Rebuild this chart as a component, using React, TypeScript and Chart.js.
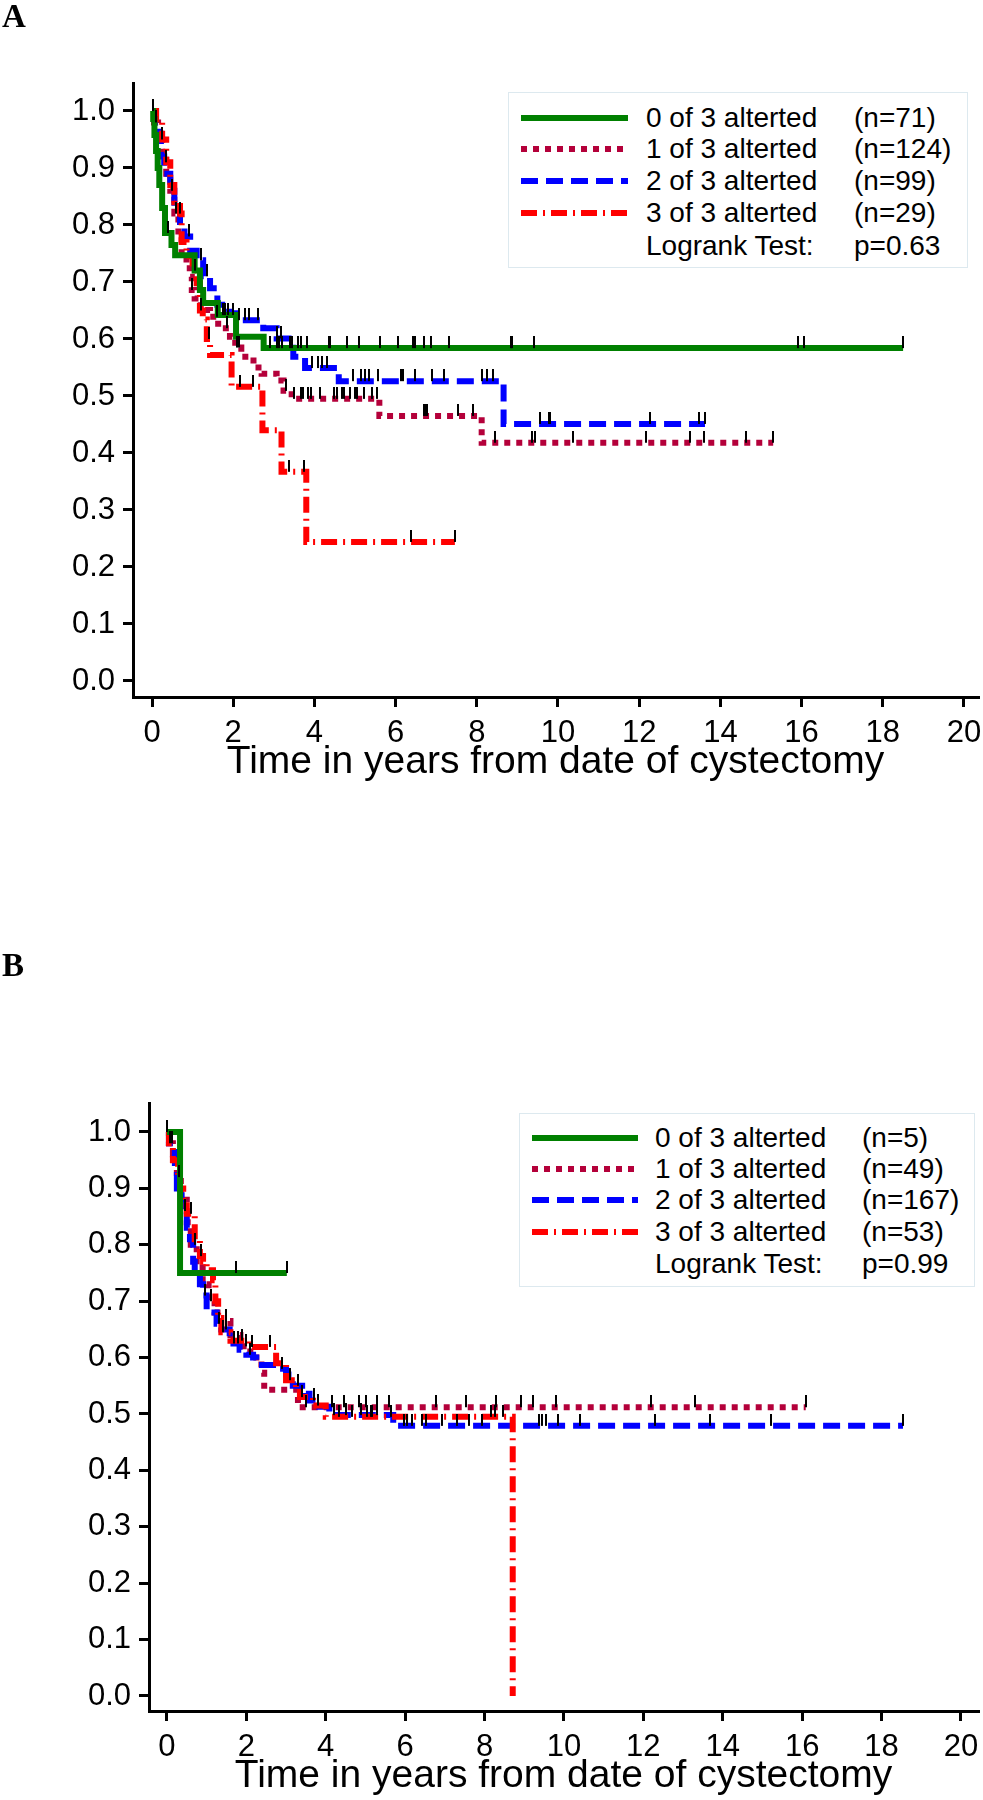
import React, { useEffect, useRef } from "react";
import { Chart, registerables } from "chart.js";

Chart.register(...registerables);

const FONT = "'Liberation Sans', Arial, Helvetica, sans-serif";

// ---------- shared labels / ticks ----------
const X_TICKS = [0, 2, 4, 6, 8, 10, 12, 14, 16, 18, 20];
const Y_TICKS = [0, 0.1, 0.2, 0.3, 0.4, 0.5, 0.6, 0.7, 0.8, 0.9, 1.0];
const X_TITLE = "Time in years from date of cystectomy";
const GROUPS = ["0 of 3 alterted", "1 of 3 alterted", "2 of 3 alterted", "3 of 3 alterted"];
const TEST_LABEL = "Logrank Test:";

// ---------- Panel A ----------
const A_N = ["(n=71)", "(n=124)", "(n=99)", "(n=29)"];
const A_P = "p=0.63";

const A_G0_T = [0, 0.03, 0.06, 0.1, 0.14, 0.18, 0.25, 0.32, 0.48, 0.57, 1.05, 1.18, 1.26, 1.62, 2.07, 2.75];
const A_G0_S = [1.0, 0.986, 0.958, 0.93, 0.9, 0.87, 0.83, 0.786, 0.765, 0.747, 0.72, 0.686, 0.663, 0.642, 0.604, 0.584];
const A_G0_END = 18.5;
const A_G0_CENS = [0.02, 0.4, 1.75, 1.8, 1.88, 2.0, 2.9, 3.07, 3.14, 3.19, 3.4, 3.46, 3.6, 3.66, 3.81, 4.35, 4.38, 4.8, 5.1, 5.62, 6.05, 6.43, 6.47, 6.7, 6.87, 7.32, 8.85, 8.87, 9.41, 15.91, 16.06, 18.5];

const A_G1_T = [0, 0.05, 0.15, 0.25, 0.35, 0.45, 0.55, 0.65, 0.73, 0.85, 0.93, 0.98, 1.05, 1.2, 1.43, 1.63, 1.92, 2.05, 2.2, 2.5, 2.7, 3.07, 3.24, 3.44, 5.6, 8.12];
const A_G1_S = [1.0, 0.98, 0.95, 0.92, 0.89, 0.86, 0.82, 0.78, 0.75, 0.73, 0.709, 0.686, 0.671, 0.651, 0.639, 0.619, 0.604, 0.585, 0.569, 0.55, 0.539, 0.527, 0.509, 0.495, 0.465, 0.418];
const A_G1_END = 15.3;
const A_G1_CENS = [0.24, 0.59, 0.98, 1.6, 1.85, 2.1, 2.15, 3.3, 3.5, 3.67, 3.73, 3.84, 3.92, 4.13, 4.48, 4.56, 4.67, 4.73, 4.88, 4.99, 5.05, 5.21, 5.42, 5.55, 6.7, 6.74, 6.77, 7.53, 7.91, 8.44, 9.36, 9.44, 10.38, 12.17, 13.24, 13.59, 14.62, 15.3];

const A_G2_T = [0, 0.1, 0.18, 0.22, 0.3, 0.45, 0.55, 0.69, 0.8, 0.94, 1.1, 1.26, 1.43, 1.61, 1.9, 2.09, 2.74, 3.07, 3.48, 3.77, 4.6, 8.66];
const A_G2_S = [1.0, 0.98, 0.96, 0.92, 0.89, 0.86, 0.83, 0.8, 0.78, 0.755, 0.738, 0.71, 0.689, 0.66, 0.645, 0.633, 0.619, 0.601, 0.569, 0.549, 0.526, 0.451];
const A_G2_END = 13.62;
const A_G2_CENS = [0.1, 0.5, 0.92, 1.2, 1.35, 2.15, 2.29, 2.4, 2.62, 3.07, 3.17, 3.94, 4.08, 4.19, 4.31, 4.95, 5.15, 5.25, 5.34, 5.57, 6.13, 6.18, 6.48, 6.9, 7.2, 8.13, 8.25, 8.41, 9.56, 9.78, 9.8, 12.27, 13.47, 13.62];

const A_G3_T = [0, 0.1, 0.25, 0.35, 0.45, 0.55, 0.69, 0.73, 0.85, 1.0, 1.1, 1.18, 1.25, 1.35, 1.43, 1.96, 2.72, 3.19, 3.8];
const A_G3_S = [1.0, 0.98, 0.95, 0.91, 0.87, 0.84, 0.82, 0.77, 0.745, 0.72, 0.698, 0.65, 0.634, 0.6, 0.572, 0.516, 0.44, 0.367, 0.244];
const A_G3_END = 7.46;
const A_G3_CENS = [0.35, 0.7, 1.05, 1.2, 1.41, 2.17, 2.5, 3.38, 3.74, 6.39, 7.46];

// ---------- Panel B ----------
const B_N = ["(n=5)", "(n=49)", "(n=167)", "(n=53)"];
const B_P = "p=0.99";

const B_G0_T = [0, 0.33];
const B_G0_S = [1.0, 0.75];
const B_G0_END = 3.02;
const B_G0_CENS = [0.01, 1.73, 3.02];

const B_G1_T = [0, 0.05, 0.15, 0.25, 0.35, 0.5, 0.6, 0.75, 0.9, 1.05, 1.2, 1.35, 1.6, 1.85, 2.1, 2.38, 2.45, 3.3];
const B_G1_S = [1.0, 0.98, 0.96, 0.92, 0.88, 0.84, 0.8, 0.76, 0.73, 0.7, 0.68, 0.665, 0.64, 0.62, 0.6, 0.573, 0.543, 0.512];
const B_G1_END = 16.09;
const B_G1_CENS = [0.3, 0.7, 1.1, 1.5, 2.0, 3.5, 4.17, 4.47, 4.84, 5.02, 5.29, 5.6, 6.78, 7.53, 8.28, 8.91, 9.23, 9.79, 12.2, 13.3, 16.09];

const B_G2_T = [0, 0.05, 0.2, 0.25, 0.37, 0.5, 0.58, 0.66, 0.7, 0.83, 0.91, 1.0, 1.08, 1.25, 1.37, 1.58, 1.83, 2.0, 2.17, 2.25, 2.75, 3.0, 3.17, 3.5, 3.59, 3.84, 4.09, 5.7];
const B_G2_S = [1.0, 0.98, 0.93, 0.9, 0.86, 0.83, 0.81, 0.77, 0.75, 0.73, 0.71, 0.685, 0.68, 0.66, 0.65, 0.625, 0.614, 0.605, 0.6, 0.587, 0.58, 0.57, 0.55, 0.536, 0.524, 0.513, 0.498, 0.479];
const B_G2_END = 18.54;
const B_G2_CENS = [0.12, 0.45, 0.95, 1.3, 1.5, 1.7, 1.8, 2.1, 2.9, 3.3, 3.7, 4.2, 4.5, 4.9, 5.3, 5.97, 6.05, 6.17, 6.42, 6.52, 6.93, 7.3, 7.6, 7.93, 9.36, 9.44, 9.56, 9.84, 10.41, 12.3, 13.68, 15.21, 18.54];

const B_G3_T = [0, 0.05, 0.15, 0.28, 0.33, 0.41, 0.5, 0.7, 0.83, 0.91, 1.0, 1.16, 1.22, 1.29, 1.37, 1.6, 2.08, 2.75, 3.0, 3.25, 3.35, 3.68, 4.0, 8.71];
const B_G3_S = [1.0, 0.98, 0.95, 0.92, 0.9, 0.87, 0.855, 0.81, 0.78, 0.77, 0.755, 0.737, 0.7, 0.67, 0.645, 0.63, 0.619, 0.59, 0.56, 0.547, 0.53, 0.515, 0.495, 0.0];
const B_G3_END = 8.71;
const B_G3_CENS = [0.08, 0.6, 0.85, 1.4, 1.9, 2.15, 2.6, 3.1, 3.4, 3.8, 4.34, 4.67, 5.05, 5.14, 5.17, 5.65, 8.16, 8.26, 8.46];

// ---------- styles ----------
const COLORS = ["#008000", "#b4003a", "#0000ff", "#ff0000"];
const DASHES = [[], [6, 6], [17, 8], [16, 6, 2, 6]];
const WIDTHS = [6, 6, 6, 6];
const LINE_ORDER = [1, 4, 3, 2];

type Series = { t: number[]; s: number[]; end: number; cens: number[] };

const SERIES_A: Series[] = [
  { t: A_G0_T, s: A_G0_S, end: A_G0_END, cens: A_G0_CENS },
  { t: A_G1_T, s: A_G1_S, end: A_G1_END, cens: A_G1_CENS },
  { t: A_G2_T, s: A_G2_S, end: A_G2_END, cens: A_G2_CENS },
  { t: A_G3_T, s: A_G3_S, end: A_G3_END, cens: A_G3_CENS },
];
const SERIES_B: Series[] = [
  { t: B_G0_T, s: B_G0_S, end: B_G0_END, cens: B_G0_CENS },
  { t: B_G1_T, s: B_G1_S, end: B_G1_END, cens: B_G1_CENS },
  { t: B_G2_T, s: B_G2_S, end: B_G2_END, cens: B_G2_CENS },
  { t: B_G3_T, s: B_G3_S, end: B_G3_END, cens: B_G3_CENS },
];

function survAt(sr: Series, x: number): number {
  let v = sr.s[0];
  for (let i = 0; i < sr.t.length; i++) {
    if (sr.t[i] <= x) v = sr.s[i];
    else break;
  }
  return v;
}

type Geo = {
  top: number; height: number;
  padTop: number; padRight: number; padBottom: number;
  yW: number; xH: number;
  xMin: number; xMax: number; yMin: number; yMax: number;
};

const GEO_A: Geo = { top: 0, height: 800, padTop: 83, padRight: 5, padBottom: 14, yW: 133, xH: 89, xMin: -0.468, xMax: 20.345, yMin: -0.0281, yMax: 1.0491 };
const GEO_B: Geo = { top: 900, height: 900, padTop: 203, padRight: 2, padBottom: 0, yW: 149, xH: 89, xMin: -0.452, xMax: 20.43, yMin: -0.0266, yMax: 1.0514 };

function KMChart({ series, geo }: { series: Series[]; geo: Geo }) {
  const ref = useRef<HTMLCanvasElement>(null);
  useEffect(() => {
    const canvas = ref.current;
    if (!canvas) return;
    const mark = document.createElement("canvas");
    mark.width = 2;
    mark.height = 24;
    const mctx = mark.getContext("2d")!;
    mctx.fillStyle = "#000";
    mctx.fillRect(0, 0, 2, 12);

    const lineSets: any[] = series.map((sr, i) => {
      const pts = sr.t.map((t, k) => ({ x: t, y: sr.s[k] }));
      if (sr.end > sr.t[sr.t.length - 1]) pts.push({ x: sr.end, y: sr.s[sr.s.length - 1] });
      return {
        type: "line",
        data: pts,
        borderColor: COLORS[i],
        backgroundColor: COLORS[i],
        borderWidth: WIDTHS[i],
        borderDash: DASHES[i],
        borderCapStyle: "butt",
        borderJoinStyle: "miter",
        stepped: "before",
        pointRadius: 0,
        fill: false,
        order: LINE_ORDER[i],
      };
    });
    const censSets: any[] = series.map((sr) => ({
      type: "line",
      data: sr.cens.map((c) => ({ x: c, y: survAt(sr, c) })),
      showLine: false,
      pointStyle: mark,
      pointRadius: 3,
      order: 0,
    }));

    const tickFont = { family: FONT, size: 31 };
    const zeroPad = (s: any) => {
      s.paddingLeft = 0;
      s.paddingRight = 0;
      s.paddingTop = 0;
      s.paddingBottom = 0;
    };

    const chart = new Chart(canvas, {
      type: "line",
      data: { datasets: [...censSets, ...lineSets] },
      options: {
        animation: false,
        responsive: false,
        maintainAspectRatio: false,
        devicePixelRatio: 1,
        events: [],
        layout: { padding: { left: 0, top: geo.padTop, right: geo.padRight, bottom: geo.padBottom } },
        plugins: { legend: { display: false }, tooltip: { enabled: false }, title: { display: false } },
        scales: {
          x: {
            type: "linear",
            min: geo.xMin,
            max: geo.xMax,
            afterBuildTicks: (s: any) => {
              s.ticks = X_TICKS.map((v) => ({ value: v }));
            },
            afterFit: (s: any) => {
              s.height = geo.xH;
              zeroPad(s);
            },
            ticks: {
              font: tickFont,
              color: "#000",
              padding: 8,
              autoSkip: false,
              maxRotation: 0,
              minRotation: 0,
              callback: (v: any) => String(v),
            },
            grid: { display: true, drawOnChartArea: false, drawTicks: true, tickLength: 10, tickWidth: 3, lineWidth: 3, color: "#000", tickColor: "#000" },
            border: { display: true, color: "#000", width: 3 },
            title: { display: true, text: X_TITLE, color: "#000", font: { family: FONT, size: 39 }, padding: { top: 0, bottom: 0 } },
          },
          y: {
            type: "linear",
            min: geo.yMin,
            max: geo.yMax,
            afterBuildTicks: (s: any) => {
              s.ticks = Y_TICKS.map((v) => ({ value: v }));
            },
            afterFit: (s: any) => {
              s.width = geo.yW;
              zeroPad(s);
            },
            ticks: {
              font: tickFont,
              color: "#000",
              padding: 8,
              autoSkip: false,
              callback: (v: any) => Number(v).toFixed(1),
            },
            grid: { display: true, drawOnChartArea: false, drawTicks: true, tickLength: 10, tickWidth: 3, lineWidth: 3, color: "#000", tickColor: "#000" },
            border: { display: true, color: "#000", width: 3 },
          },
        },
      } as any,
    });
    return () => chart.destroy();
  }, [series, geo]);

  return (
    <canvas
      ref={ref}
      width={983}
      height={geo.height}
      style={{ position: "absolute", left: 0, top: geo.top, width: 983, height: geo.height, display: "block" }}
    />
  );
}

type LegendGeo = { left: number; top: number; width: number; height: number; rows: number[]; lineX: number; lineW: number; textX: number; nX: number };

const LEG_A: LegendGeo = { left: 508, top: 92, width: 460, height: 176, rows: [25, 56, 88, 120, 153], lineX: 12, lineW: 107, textX: 137, nX: 345 };
const LEG_B: LegendGeo = { left: 519, top: 1113, width: 456, height: 174, rows: [24, 55, 86, 118, 150], lineX: 12, lineW: 106, textX: 135, nX: 342 };

function Legend({ g, nLabels, p }: { g: LegendGeo; nLabels: string[]; p: string }) {
  const txt = (text: string, x: number, yc: number, key: string) => (
    <div
      key={key}
      style={{
        position: "absolute",
        left: x,
        top: yc - 14,
        fontFamily: FONT,
        fontSize: 28,
        lineHeight: "28px",
        color: "#000",
        whiteSpace: "nowrap",
      }}
    >
      {text}
    </div>
  );
  return (
    <div
      style={{
        position: "absolute",
        left: g.left,
        top: g.top,
        width: g.width,
        height: g.height,
        boxSizing: "border-box",
        border: "1px solid #dde9ef",
        background: "#fff",
      }}
    >
      {GROUPS.map((label, i) => (
        <React.Fragment key={label}>
          <svg
            width={g.lineW}
            height={12}
            style={{ position: "absolute", left: g.lineX, top: g.rows[i] - 6 }}
          >
            <line
              x1={0}
              y1={6}
              x2={g.lineW}
              y2={6}
              stroke={COLORS[i]}
              strokeWidth={6}
              strokeDasharray={DASHES[i].length ? DASHES[i].join(" ") : undefined}
            />
          </svg>
          {txt(label, g.textX, g.rows[i], "l" + i)}
          {txt(nLabels[i], g.nX, g.rows[i], "n" + i)}
        </React.Fragment>
      ))}
      {txt(TEST_LABEL, g.textX, g.rows[4], "t")}
      {txt(p, g.nX, g.rows[4], "p")}
    </div>
  );
}

function PanelLabel({ text, top }: { text: string; top: number }) {
  return (
    <div
      style={{
        position: "absolute",
        left: 2,
        top,
        fontFamily: "'Liberation Serif', 'Times New Roman', serif",
        fontWeight: "bold",
        fontSize: 33,
        lineHeight: "33px",
        color: "#000",
      }}
    >
      {text}
    </div>
  );
}

export default function App() {
  return (
    <div
      style={{
        position: "absolute",
        left: 0,
        top: 0,
        width: 983,
        height: 1800,
        overflow: "hidden",
        background: "#fff",
      }}
    >
      <KMChart series={SERIES_A} geo={GEO_A} />
      <KMChart series={SERIES_B} geo={GEO_B} />
      <Legend g={LEG_A} nLabels={A_N} p={A_P} />
      <Legend g={LEG_B} nLabels={B_N} p={B_P} />
      <PanelLabel text="A" top={0} />
      <PanelLabel text="B" top={949} />
    </div>
  );
}
